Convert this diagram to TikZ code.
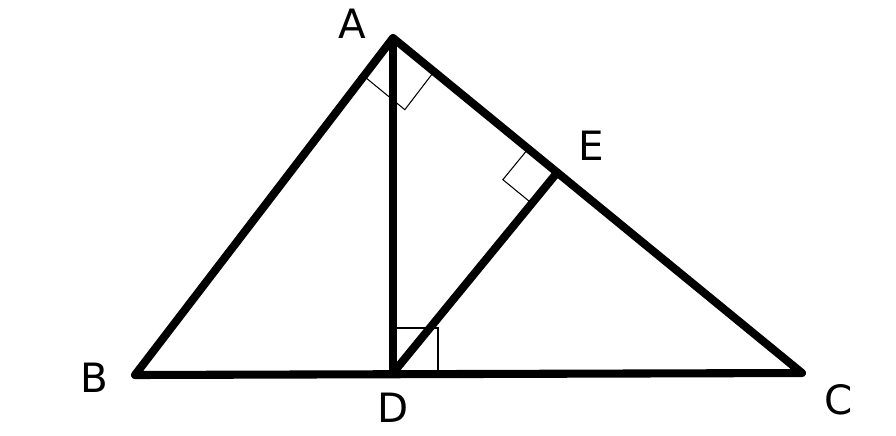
\documentclass[tikz,border=0pt]{standalone}
\usepackage{fontspec}
\setmainfont{DejaVu Sans}
\usetikzlibrary{calc}
\begin{document}
\begin{tikzpicture}[x=0.02cm, y=-0.02cm,
  side/.style = {line width=4.6pt, line cap=round, line join=round},
  rightmark/.style = {line width=0.6pt},
  lbl/.style = {font=\fontsize{23}{23}\selectfont}]
  \useasboundingbox (0,0) rectangle (896,436);
  % vertices
  \coordinate (A) at (393,38);
  \coordinate (B) at (135,375);
  \coordinate (C) at (802,373);
  \coordinate (D) at (393,373);
  % foot of the perpendicular from D
  \coordinate (E) at ($(A)!(D)!(C)$);
  % right angle at A
  \coordinate (ab) at ($(A)!0.96cm!(B)$);
  \coordinate (ac) at ($(A)!1.06cm!(C)$);
  \draw[rightmark] (ab) -- ($(ab)+(ac)-(A)$) -- (ac);
  % right angle at E
  \coordinate (ea) at ($(E)!0.75cm!(A)$);
  \coordinate (ed) at ($(E)!0.8cm!(D)$);
  \draw[rightmark] (ea) -- ($(ea)+(ed)-(E)$) -- (ed);
  % right angle at D
  \coordinate (da) at ($(D)!0.9cm!(A)$);
  \coordinate (dc) at ($(D)!0.9cm!(C)$);
  \draw[rightmark] (da) -- ($(da)+(dc)-(D)$) -- (dc);
  % sides
  \draw[side] (A) -- (B) -- (C) -- cycle;
  \draw[side] (A) -- (D);
  \draw[side] (D) -- (E);
  % labels
  \node[lbl] (lA) at (352,24) {A};
  \node[lbl] (lB) at (94,378) {B};
  \node[lbl] (lC) at (839,400) {C};
  \node[lbl] (lD) at (393,408) {D};
  \node[lbl] (lE) at (591,146) {E};
\end{tikzpicture}
\end{document}
